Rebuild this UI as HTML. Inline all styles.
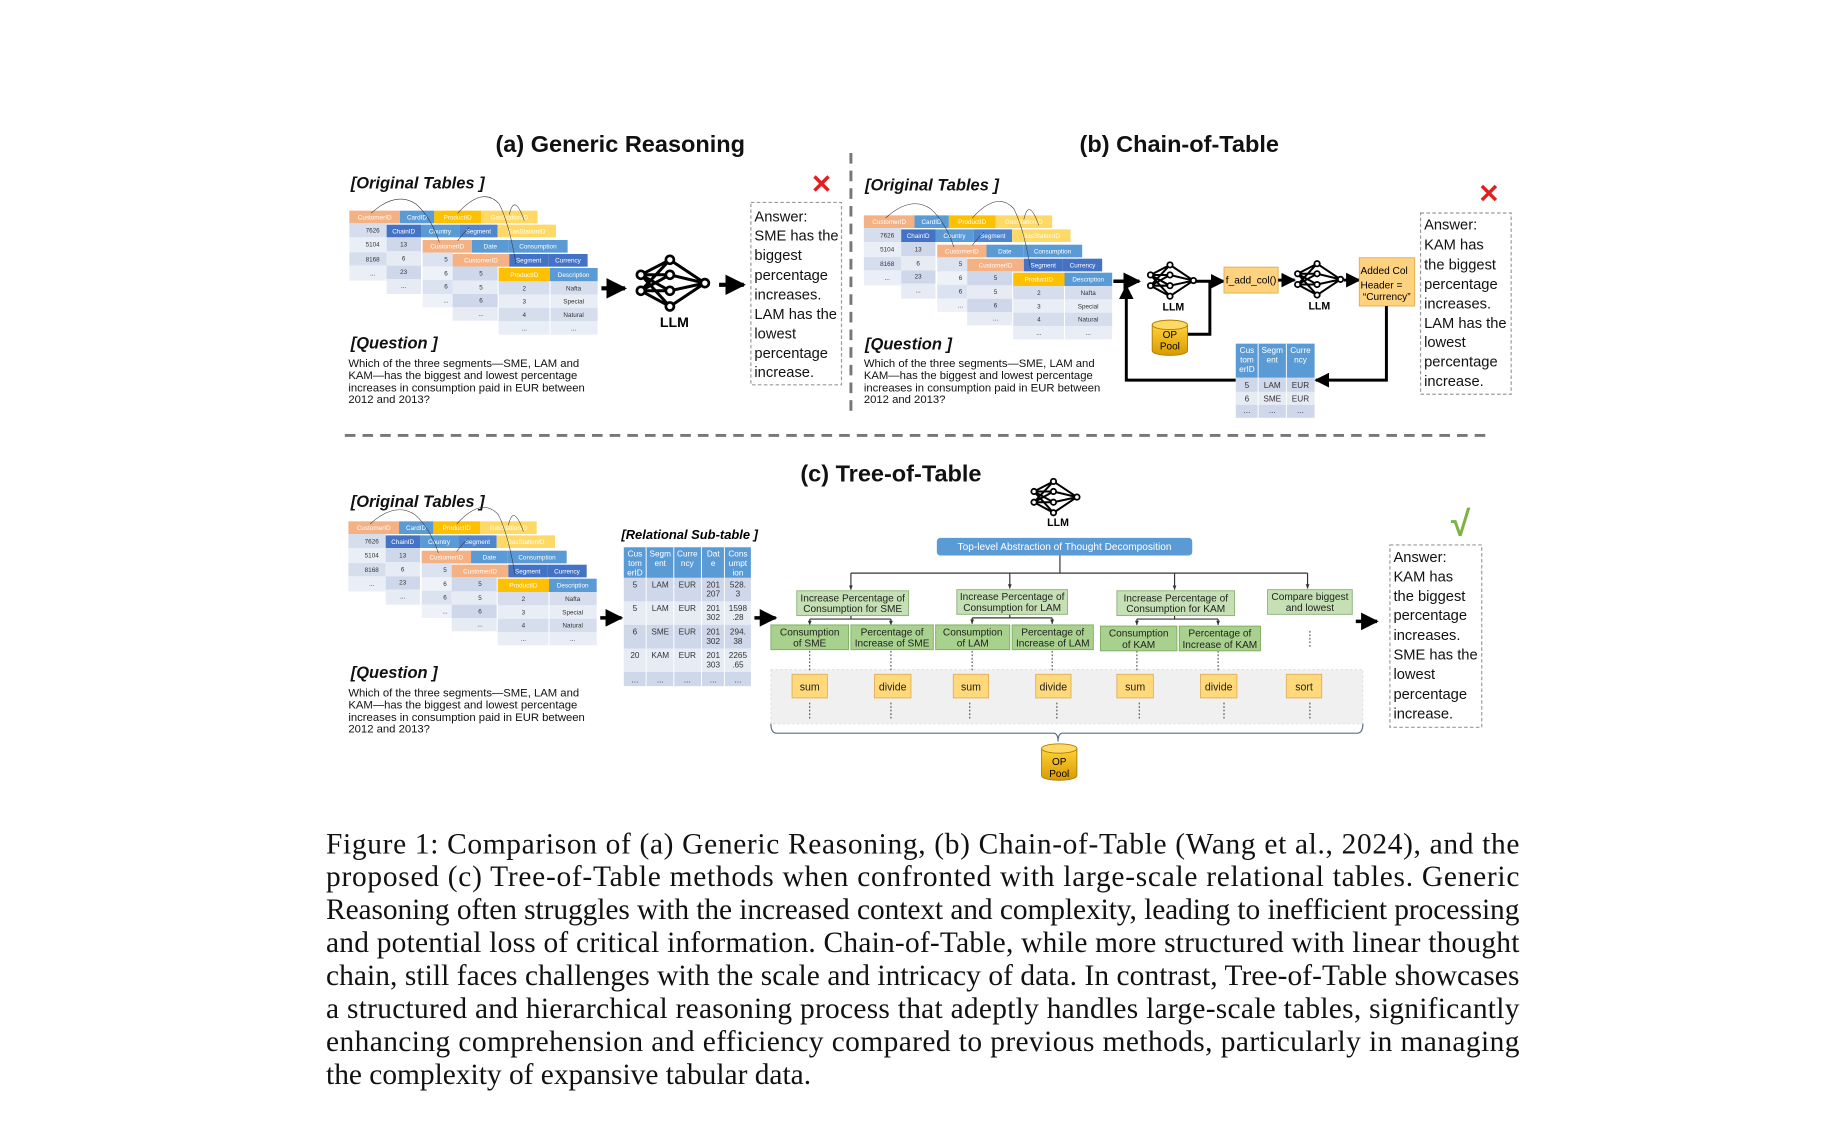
<!DOCTYPE html>
<html><head><meta charset="utf-8"><style>
html,body{margin:0;padding:0;background:#fff;}
svg{display:block;}
text{font-family:"Liberation Sans",sans-serif;}
.hd{font-size:19px;fill:#fff;text-anchor:middle;}
.cl{font-size:19px;fill:#333;text-anchor:middle;}
.lbl{font-weight:bold;font-style:italic;font-size:14px;fill:#111;}
.q{font-size:9.6px;fill:#111;}
.ans text{font-size:12.5px;fill:#111;}
.ttl{font-weight:bold;font-size:20px;fill:#111;text-anchor:middle;}
.gb{font-size:8.6px;fill:#222;text-anchor:middle;}
.op{font-size:9px;fill:#222;text-anchor:middle;}
.cap text{font-family:"Liberation Serif",serif;font-size:25px;fill:#111;}
.st{font-size:7px;fill:#333;text-anchor:middle;}
.sth{font-size:7px;fill:#fff;text-anchor:middle;}
</style></head><body>
<svg width="1836" height="1131" viewBox="0 0 1560 961" xmlns="http://www.w3.org/2000/svg">
<defs>
<marker id="ah" viewBox="0 0 10 10" refX="9" refY="5" markerWidth="5" markerHeight="5" orient="auto"><path d="M0,0L10,5L0,10z" fill="#000"/></marker>
<marker id="sa" viewBox="0 0 10 10" refX="9" refY="5" markerWidth="4" markerHeight="4" orient="auto"><path d="M0,1L10,5L0,9z" fill="#333"/></marker>
<g id="tbl">
 <rect x="0" y="0" width="152" height="38" fill="#f4b183"/><text class="hd" x="76" y="26">CustomerID</text>
 <rect x="152" y="0" width="103" height="38" fill="#5b9bd5"/><text class="hd" x="203" y="26">CardID</text>
 <rect x="255" y="0" width="140" height="38" fill="#ffc000"/><text class="hd" x="325" y="26">ProductID</text>
 <rect x="395" y="0" width="170" height="38" fill="#ffd966"/><text class="hd" x="480" y="26">GasStationID</text>
 <rect x="0" y="38" width="112" height="42" fill="#d6deee"/><text class="cl" x="70" y="66">7626</text>
 <rect x="0" y="80" width="112" height="45" fill="#eaeef6"/><text class="cl" x="70" y="108">5104</text>
 <rect x="0" y="125" width="112" height="40" fill="#d6deee"/><text class="cl" x="70" y="152">8168</text>
 <rect x="0" y="165" width="112" height="45" fill="#eaeef6"/><text class="cl" x="70" y="194">...</text>
 <rect x="112" y="42" width="103" height="38" fill="#4472c4"/><text class="hd" x="163" y="68">ChainID</text>
 <rect x="215" y="42" width="115" height="38" fill="#5b9bd5"/><text class="hd" x="272" y="68">Country</text>
 <rect x="330" y="42" width="115" height="38" fill="#4f86cf"/><text class="hd" x="387" y="68">Segment</text>
 <rect x="445" y="42" width="175" height="38" fill="#ffd966"/><text class="hd" x="532" y="68">GasStationID</text>
 <rect x="112" y="80" width="103" height="42" fill="#cfd8ea"/><text class="cl" x="163" y="108">13</text>
 <rect x="112" y="122" width="103" height="43" fill="#e6ebf4"/><text class="cl" x="163" y="150">6</text>
 <rect x="112" y="165" width="103" height="40" fill="#cfd8ea"/><text class="cl" x="163" y="190">23</text>
 <rect x="112" y="205" width="103" height="45" fill="#e6ebf4"/><text class="cl" x="163" y="232">...</text>
 <rect x="220" y="88" width="148" height="38" fill="#f4b183"/><text class="hd" x="294" y="114">CustomerID</text>
 <rect x="368" y="88" width="110" height="38" fill="#5b9bd5"/><text class="hd" x="423" y="114">Date</text>
 <rect x="478" y="88" width="177" height="38" fill="#5b9bd5"/><text class="hd" x="566" y="114">Consumption</text>
 <rect x="220" y="126" width="90" height="42" fill="#dbe2f0"/><text class="cl" x="290" y="152">5</text>
 <rect x="220" y="168" width="90" height="40" fill="#eef1f7"/><text class="cl" x="290" y="194">6</text>
 <rect x="220" y="208" width="90" height="42" fill="#dbe2f0"/><text class="cl" x="290" y="234">6</text>
 <rect x="220" y="250" width="90" height="40" fill="#eef1f7"/><text class="cl" x="290" y="276">...</text>
 <rect x="310" y="130" width="170" height="38" fill="#f4b183"/><text class="hd" x="395" y="156">CustomerID</text>
 <rect x="480" y="130" width="117" height="38" fill="#4472c4"/><text class="hd" x="538" y="156">Segment</text>
 <rect x="597" y="130" width="118" height="38" fill="#4472c4"/><text class="hd" x="656" y="156">Currency</text>
 <rect x="310" y="168" width="135" height="42" fill="#cfd8ea"/><text class="cl" x="395" y="194">5</text>
 <rect x="310" y="210" width="135" height="40" fill="#e6ebf4"/><text class="cl" x="395" y="236">5</text>
 <rect x="310" y="250" width="135" height="40" fill="#cfd8ea"/><text class="cl" x="395" y="276">6</text>
 <rect x="310" y="290" width="135" height="40" fill="#e6ebf4"/><text class="cl" x="395" y="316">...</text>
 <rect x="448" y="172" width="154" height="40" fill="#ffc000"/><text class="hd" x="525" y="199">ProductID</text>
 <rect x="602" y="172" width="143" height="40" fill="#5b9bd5"/><text class="hd" x="673" y="199">Description</text>
 <rect x="448" y="212" width="297" height="40" fill="#d6deee"/>
 <rect x="448" y="252" width="297" height="40" fill="#e9edf5"/>
 <rect x="448" y="292" width="297" height="40" fill="#d6deee"/>
 <rect x="448" y="332" width="297" height="40" fill="#e9edf5"/>
 <line x1="602" y1="212" x2="602" y2="372" stroke="#fff" stroke-width="3"/>
 <text class="cl" x="525" y="239">2</text><text class="cl" x="673" y="239">Nafta</text>
 <text class="cl" x="525" y="279">3</text><text class="cl" x="673" y="279">Special</text>
 <text class="cl" x="525" y="319">4</text><text class="cl" x="673" y="319">Natural</text>
 <text class="cl" x="525" y="359">...</text><text class="cl" x="673" y="359">...</text>
 <g fill="none" stroke="#333" stroke-width="1.6">
  <path d="M65,8 Q140,-60 200,-20 Q245,20 270,95"/>
  <path d="M325,8 Q400,-75 450,-20 Q480,40 500,160"/>
  <path d="M480,12 Q495,-55 525,30"/>
  <path d="M325,90 Q345,65 360,50"/>
 </g>
</g>
<g id="llm" fill="none" stroke="#000">
 <g stroke-width="9">
  <path d="M-97,-23L-10,-68M-97,-23L-10,-23M-97,-23L-10,25M-97,-23L-10,72M-97,25L-10,-68M-97,25L-10,-23M-97,25L-10,25M-97,25L-10,72M-10,-68L95,2M-10,-23L95,2M-10,25L95,2M-10,72L95,2"/>
 </g>
 <g fill="#fff" stroke-width="8">
  <circle cx="-97" cy="-23" r="12"/><circle cx="-97" cy="25" r="12"/>
  <circle cx="-10" cy="-68" r="12"/><circle cx="-10" cy="-23" r="12"/><circle cx="-10" cy="25" r="12"/><circle cx="-10" cy="72" r="12"/>
  <circle cx="95" cy="2" r="12"/>
 </g>
</g>
<linearGradient id="cyl" x1="0" y1="0" x2="0" y2="1"><stop offset="0" stop-color="#ffd23a"/><stop offset="1" stop-color="#d99a00"/></linearGradient>
</defs>

<line x1="723" y1="130" x2="723" y2="355" stroke="#777" stroke-width="2.5" stroke-dasharray="9,6"/>
<line x1="293" y1="370" x2="1268" y2="370" stroke="#777" stroke-width="2.5" stroke-dasharray="9,6"/>

<!-- (a) -->
<text class="ttl" x="527" y="129">(a) Generic Reasoning</text>
<text class="lbl" x="298" y="160">[Original Tables ]</text>
<use href="#tbl" transform="translate(296.8,179) scale(0.2832)"/>
<text class="lbl" x="298" y="296">[Question ]</text>
<text class="q" x="296" y="312">Which of the three segments—SME, LAM and</text>
<text class="q" x="296" y="322">KAM—has the biggest and lowest percentage</text>
<text class="q" x="296" y="332.5">increases in consumption paid in EUR between</text>
<text class="q" x="296" y="342.5">2012 and 2013?</text>
<line x1="511" y1="245" x2="531" y2="245" stroke="#000" stroke-width="3.5" marker-end="url(#ah)"/>
<use href="#llm" transform="translate(572,240) scale(0.2832)"/>
<text x="573" y="278" font-weight="bold" font-size="12" text-anchor="middle">LLM</text>
<line x1="611" y1="242" x2="632" y2="242" stroke="#000" stroke-width="3.5" marker-end="url(#ah)"/>
<text x="698" y="164" font-size="22" font-weight="bold" fill="#e02020" text-anchor="middle">✕</text>
<rect x="638" y="172" width="77" height="155" fill="none" stroke="#999" stroke-dasharray="3,2"/>
<g class="ans">
<text x="641" y="188">Answer:</text><text x="641" y="204.5">SME has the</text><text x="641" y="221">biggest</text>
<text x="641" y="238">percentage</text><text x="641" y="254.5">increases.</text><text x="641" y="271">LAM has the</text>
<text x="641" y="287.5">lowest</text><text x="641" y="304">percentage</text><text x="641" y="320.5">increase.</text>
</g>

<!-- (b) -->
<text class="ttl" x="1002" y="129">(b) Chain-of-Table</text>
<text class="lbl" x="735" y="162">[Original Tables ]</text>
<use href="#tbl" transform="translate(734,183) scale(0.2832)"/>
<text class="lbl" x="735" y="297">[Question ]</text>
<text class="q" x="734" y="312">Which of the three segments—SME, LAM and</text>
<text class="q" x="734" y="322">KAM—has the biggest and lowest percentage</text>
<text class="q" x="734" y="332.5">increases in consumption paid in EUR between</text>
<text class="q" x="734" y="342.5">2012 and 2013?</text>
<line x1="946" y1="239" x2="968" y2="239" stroke="#000" stroke-width="3" marker-end="url(#ah)"/>
<use href="#llm" transform="translate(996,238) scale(0.19)"/>
<text x="997" y="264" font-weight="bold" font-size="9" text-anchor="middle">LLM</text>
<line x1="1016" y1="239" x2="1040" y2="239" stroke="#000" stroke-width="2.5" marker-end="url(#ah)"/>
<rect x="1040" y="227" width="46" height="22" fill="#ffd27f" stroke="#e0b050" stroke-width="0.8"/>
<text x="1063" y="241" font-size="8.6" text-anchor="middle">f_add_col()</text>
<line x1="1086" y1="238" x2="1100" y2="238" stroke="#000" stroke-width="2.5" marker-end="url(#ah)"/>
<use href="#llm" transform="translate(1121,237) scale(0.19)"/>
<text x="1121" y="263" font-weight="bold" font-size="9" text-anchor="middle">LLM</text>
<line x1="1142" y1="238" x2="1155" y2="238" stroke="#000" stroke-width="2.5" marker-end="url(#ah)"/>
<rect x="1155" y="219" width="47" height="41" fill="#ffd27f" stroke="#e0b050" stroke-width="0.8"/>
<text x="1156" y="233" font-size="8.6">Added Col</text>
<text x="1156" y="245" font-size="8.6">Header =</text>
<text x="1158" y="255" font-size="8.6">“Currency”</text>
<path d="M1178,260 V323 H1118" fill="none" stroke="#000" stroke-width="2.5" marker-end="url(#ah)"/>
<path d="M1050,323 H957 V243" fill="none" stroke="#000" stroke-width="2.5" marker-end="url(#ah)"/>
<path d="M1006,284 H1028 V239" fill="none" stroke="#000" stroke-width="2.5"/>
<g transform="translate(979,272)">
 <path d="M0,4 V26 A15,4 0 0 0 30,26 V4" fill="url(#cyl)" stroke="#b08000" stroke-width="0.8"/>
 <ellipse cx="15" cy="4" rx="15" ry="4" fill="#ffd966" stroke="#b08000" stroke-width="0.8"/>
 <text x="15" y="15" font-size="8.5" text-anchor="middle">OP</text><text x="15" y="25" font-size="8.5" text-anchor="middle">Pool</text>
</g>
<g>
 <rect x="1050" y="292" width="67" height="29" fill="#5b9bd5"/>
 <line x1="1069" y1="292" x2="1069" y2="355" stroke="#fff" stroke-width="0.8"/>
 <line x1="1093" y1="292" x2="1093" y2="355" stroke="#fff" stroke-width="0.8"/>
 <text class="sth" x="1059.5" y="300">Cus</text><text class="sth" x="1059.5" y="308">tom</text><text class="sth" x="1059.5" y="316">erID</text>
 <text class="sth" x="1081" y="300">Segm</text><text class="sth" x="1081" y="308">ent</text>
 <text class="sth" x="1105" y="300">Curre</text><text class="sth" x="1105" y="308">ncy</text>
 <rect x="1050" y="321" width="67" height="12" fill="#cfd8ea"/>
 <rect x="1050" y="333" width="67" height="11" fill="#e6ebf4"/>
 <rect x="1050" y="344" width="67" height="11" fill="#cfd8ea"/>
 <line x1="1069" y1="321" x2="1069" y2="355" stroke="#fff" stroke-width="0.8"/>
 <line x1="1093" y1="321" x2="1093" y2="355" stroke="#fff" stroke-width="0.8"/>
 <text class="st" x="1059.5" y="329.5">5</text><text class="st" x="1081" y="329.5">LAM</text><text class="st" x="1105" y="329.5">EUR</text>
 <text class="st" x="1059.5" y="341">6</text><text class="st" x="1081" y="341">SME</text><text class="st" x="1105" y="341">EUR</text>
 <text class="st" x="1059.5" y="351">...</text><text class="st" x="1081" y="351">...</text><text class="st" x="1105" y="351">...</text>
</g>
<text x="1265" y="172" font-size="22" font-weight="bold" fill="#e02020" text-anchor="middle">✕</text>
<rect x="1207" y="181" width="77" height="154" fill="none" stroke="#999" stroke-dasharray="3,2"/>
<g class="ans">
<text x="1210" y="195">Answer:</text><text x="1210" y="212">KAM has</text><text x="1210" y="229">the biggest</text>
<text x="1210" y="245.5">percentage</text><text x="1210" y="262">increases.</text><text x="1210" y="278.5">LAM has the</text>
<text x="1210" y="295">lowest</text><text x="1210" y="311.5">percentage</text><text x="1210" y="328">increase.</text>
</g>

<!-- (c) -->
<text class="ttl" x="757" y="409">(c) Tree-of-Table</text>
<text class="lbl" x="298" y="431">[Original Tables ]</text>
<use href="#tbl" transform="translate(296,443) scale(0.2832)"/>
<text class="lbl" x="298" y="576">[Question ]</text>
<text class="q" x="296" y="592">Which of the three segments—SME, LAM and</text>
<text class="q" x="296" y="602">KAM—has the biggest and lowest percentage</text>
<text class="q" x="296" y="612.5">increases in consumption paid in EUR between</text>
<text class="q" x="296" y="622.5">2012 and 2013?</text>
<line x1="510" y1="525" x2="528" y2="525" stroke="#000" stroke-width="3" marker-end="url(#ah)"/>
<text x="528" y="458" font-weight="bold" font-style="italic" font-size="11">[Relational Sub-table ]</text>
<g>
 <rect x="530" y="465" width="108" height="26" fill="#5b9bd5"/>
 <rect x="530" y="491" width="108" height="20" fill="#cfd8ea"/>
 <rect x="530" y="511" width="108" height="20" fill="#e6ebf4"/>
 <rect x="530" y="531" width="108" height="20" fill="#cfd8ea"/>
 <rect x="530" y="551" width="108" height="20" fill="#e6ebf4"/>
 <rect x="530" y="571" width="108" height="12" fill="#cfd8ea"/>
 <g stroke="#fff" stroke-width="0.8"><line x1="549" y1="465" x2="549" y2="583"/><line x1="572.5" y1="465" x2="572.5" y2="583"/><line x1="596" y1="465" x2="596" y2="583"/><line x1="615.5" y1="465" x2="615.5" y2="583"/></g>
 <text class="sth" x="539.5" y="473">Cus</text><text class="sth" x="539.5" y="481">tom</text><text class="sth" x="539.5" y="489">erID</text>
 <text class="sth" x="561" y="473">Segm</text><text class="sth" x="561" y="481">ent</text>
 <text class="sth" x="584" y="473">Curre</text><text class="sth" x="584" y="481">ncy</text>
 <text class="sth" x="606" y="473">Dat</text><text class="sth" x="606" y="481">e</text>
 <text class="sth" x="627" y="473">Cons</text><text class="sth" x="627" y="481">umpt</text><text class="sth" x="627" y="489">ion</text>
 <g class="st">
 <text x="539.5" y="499">5</text><text x="561" y="499">LAM</text><text x="584" y="499">EUR</text><text x="606" y="499">201</text><text x="627" y="499">528.</text><text x="606" y="507">207</text><text x="627" y="507">3</text>
 <text x="539.5" y="519">5</text><text x="561" y="519">LAM</text><text x="584" y="519">EUR</text><text x="606" y="519">201</text><text x="627" y="519">1598</text><text x="606" y="527">302</text><text x="627" y="527">.28</text>
 <text x="539.5" y="539">6</text><text x="561" y="539">SME</text><text x="584" y="539">EUR</text><text x="606" y="539">201</text><text x="627" y="539">294.</text><text x="606" y="547">302</text><text x="627" y="547">38</text>
 <text x="539.5" y="559">20</text><text x="561" y="559">KAM</text><text x="584" y="559">EUR</text><text x="606" y="559">201</text><text x="627" y="559">2265</text><text x="606" y="567">303</text><text x="627" y="567">.65</text>
 <text x="539.5" y="580">...</text><text x="561" y="580">...</text><text x="584" y="580">...</text><text x="606" y="580">...</text><text x="627" y="580">...</text>
 </g>
</g>
<line x1="641" y1="525" x2="659" y2="525" stroke="#000" stroke-width="3" marker-end="url(#ah)"/>
<use href="#llm" transform="translate(897,422) scale(0.19)"/>
<text x="899" y="447" font-weight="bold" font-size="9" text-anchor="middle">LLM</text>
<rect x="796" y="457" width="217" height="15" rx="3" fill="#5b9bd5"/>
<text x="904.5" y="467.5" font-size="8.6" fill="#fff" text-anchor="middle">Top-level Abstraction of Thought Decomposition</text>
<rect x="655" y="569" width="503" height="46" fill="#f0f0f0" stroke="#ddd" stroke-width="0.8" stroke-dasharray="2,2"/>
<path d="M655,615 Q655,623 660,623 H895 Q899,623 899,630 Q899,623 903,623 H1153 Q1158,623 1158,615" fill="none" stroke="#5a6e85" stroke-width="1"/>
<g fill="none" stroke="#333" stroke-width="1">
 <line x1="900.6" y1="472" x2="900.6" y2="487"/>
 <line x1="723" y1="487" x2="1111" y2="487"/>
 <line x1="723" y1="487" x2="723" y2="501" marker-end="url(#sa)"/>
 <line x1="858" y1="487" x2="858" y2="500" marker-end="url(#sa)"/>
 <line x1="998" y1="487" x2="998" y2="501" marker-end="url(#sa)"/>
 <line x1="1111" y1="487" x2="1111" y2="500" marker-end="url(#sa)"/>
 <line x1="723" y1="521" x2="723" y2="526"/><line x1="688" y1="526" x2="757" y2="526"/>
 <line x1="688" y1="526" x2="688" y2="531" marker-end="url(#sa)"/><line x1="757" y1="526" x2="757" y2="531" marker-end="url(#sa)"/>
 <line x1="858" y1="521" x2="858" y2="525"/><line x1="826" y1="525" x2="894" y2="525"/>
 <line x1="826" y1="525" x2="826" y2="530" marker-end="url(#sa)"/><line x1="894" y1="525" x2="894" y2="530" marker-end="url(#sa)"/>
 <line x1="998" y1="521" x2="998" y2="526"/><line x1="966" y1="526" x2="1035" y2="526"/>
 <line x1="966" y1="526" x2="966" y2="531" marker-end="url(#sa)"/><line x1="1035" y1="526" x2="1035" y2="531" marker-end="url(#sa)"/>
</g>
<g stroke="#333" stroke-width="0.8" stroke-dasharray="1.5,1.5">
 <line x1="688" y1="553" x2="688" y2="570"/><line x1="757" y1="553" x2="757" y2="570"/>
 <line x1="826" y1="553" x2="826" y2="570"/><line x1="894" y1="553" x2="894" y2="570"/>
 <line x1="966" y1="553" x2="966" y2="570"/><line x1="1035" y1="553" x2="1035" y2="570"/>
 <line x1="1113" y1="536" x2="1113" y2="550"/>
 <line x1="688" y1="597" x2="688" y2="611"/><line x1="757" y1="597" x2="757" y2="611"/>
 <line x1="824" y1="597" x2="824" y2="611"/><line x1="898" y1="597" x2="898" y2="611"/>
 <line x1="968" y1="597" x2="968" y2="611"/><line x1="1040" y1="597" x2="1040" y2="611"/>
 <line x1="1113" y1="597" x2="1113" y2="611"/>
</g>
<g fill="#c5e0b4" stroke="#8fb37a" stroke-width="0.8">
 <rect x="677" y="502" width="95" height="21"/>
 <rect x="813" y="501" width="94" height="21"/>
 <rect x="949" y="502" width="100" height="21"/>
 <rect x="1077" y="501" width="72" height="21"/>
</g>
<g class="gb">
 <text x="724.5" y="511">Increase Percentage of</text><text x="724.5" y="520">Consumption for SME</text>
 <text x="860" y="510">Increase Percentage of</text><text x="860" y="519">Consumption for LAM</text>
 <text x="999" y="511">Increase Percentage of</text><text x="999" y="520">Consumption for KAM</text>
 <text x="1113" y="510">Compare biggest</text><text x="1113" y="519">and lowest</text>
</g>
<g fill="#a9d18e" stroke="#7fae64" stroke-width="0.8">
 <rect x="655" y="531" width="66" height="21"/><rect x="723" y="531" width="70" height="21"/>
 <rect x="795" y="531" width="63" height="21"/><rect x="860" y="531" width="69" height="21"/>
 <rect x="935" y="532" width="65" height="21"/><rect x="1002" y="532" width="69" height="21"/>
</g>
<g class="gb" font-size="9">
 <text x="688" y="540">Consumption</text><text x="688" y="549.5">of SME</text>
 <text x="758" y="540">Percentage of</text><text x="758" y="549.5">Increase of SME</text>
 <text x="826.5" y="540">Consumption</text><text x="826.5" y="549.5">of LAM</text>
 <text x="894.5" y="540">Percentage of</text><text x="894.5" y="549.5">Increase of LAM</text>
 <text x="967.5" y="541">Consumption</text><text x="967.5" y="550.5">of KAM</text>
 <text x="1036.5" y="541">Percentage of</text><text x="1036.5" y="550.5">Increase of KAM</text>
</g>
<g fill="#ffd97a" stroke="#e0b060" stroke-width="0.8">
 <rect x="673" y="573" width="30" height="20"/><rect x="743" y="573" width="31" height="20"/>
 <rect x="810" y="573" width="30" height="20"/><rect x="880" y="573" width="30" height="20"/>
 <rect x="949" y="573" width="31" height="20"/><rect x="1020" y="573" width="31" height="20"/>
 <rect x="1093" y="573" width="30" height="20"/>
</g>
<g class="op">
 <text x="688" y="586.5">sum</text><text x="758.5" y="586.5">divide</text><text x="825" y="586.5">sum</text>
 <text x="895" y="586.5">divide</text><text x="964.5" y="586.5">sum</text><text x="1035.5" y="586.5">divide</text><text x="1108" y="586.5">sort</text>
</g>
<g transform="translate(885,632)">
 <path d="M0,4 V27 A15,4 0 0 0 30,27 V4" fill="url(#cyl)" stroke="#b08000" stroke-width="0.8"/>
 <ellipse cx="15" cy="4" rx="15" ry="4" fill="#ffd966" stroke="#b08000" stroke-width="0.8"/>
 <text x="15" y="18" font-size="8.5" text-anchor="middle">OP</text><text x="15" y="28" font-size="8.5" text-anchor="middle">Pool</text>
</g>
<line x1="1152" y1="528" x2="1170" y2="528" stroke="#000" stroke-width="3" marker-end="url(#ah)"/>
<text x="1241" y="455" font-size="30" font-weight="bold" fill="#7cb342" text-anchor="middle">√</text>
<rect x="1181" y="463" width="78" height="155" fill="none" stroke="#999" stroke-dasharray="3,2"/>
<g class="ans">
<text x="1184" y="477.5">Answer:</text><text x="1184" y="494">KAM has</text><text x="1184" y="510.5">the biggest</text>
<text x="1184" y="527">percentage</text><text x="1184" y="544">increases.</text><text x="1184" y="560.5">SME has the</text>
<text x="1184" y="577">lowest</text><text x="1184" y="594">percentage</text><text x="1184" y="610.5">increase.</text>
</g>

<g class="cap">
<text x="277" y="725" textLength="1014" lengthAdjust="spacing">Figure 1: Comparison of (a) Generic Reasoning, (b) Chain-of-Table (Wang et al., 2024), and the</text>
<text x="277" y="753" textLength="1014" lengthAdjust="spacing">proposed (c) Tree-of-Table methods when confronted with large-scale relational tables.  Generic</text>
<text x="277" y="781" textLength="1014" lengthAdjust="spacing">Reasoning often struggles with the increased context and complexity, leading to inefficient processing</text>
<text x="277" y="809" textLength="1014" lengthAdjust="spacing">and potential loss of critical information. Chain-of-Table, while more structured with linear thought</text>
<text x="277" y="837" textLength="1014" lengthAdjust="spacing">chain, still faces challenges with the scale and intricacy of data. In contrast, Tree-of-Table showcases</text>
<text x="277" y="865" textLength="1014" lengthAdjust="spacing">a structured and hierarchical reasoning process that adeptly handles large-scale tables, significantly</text>
<text x="277" y="893" textLength="1014" lengthAdjust="spacing">enhancing comprehension and efficiency compared to previous methods, particularly in managing</text>
<text x="277" y="921">the complexity of expansive tabular data.</text>
</g>
</svg>
</body></html>
